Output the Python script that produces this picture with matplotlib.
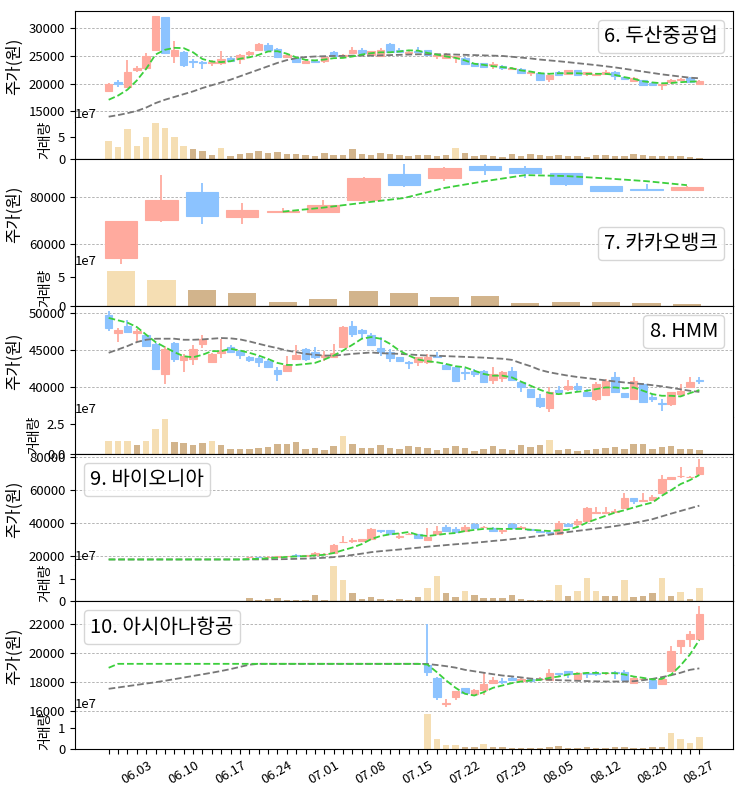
import numpy as np
import pandas as pd
import matplotlib
matplotlib.use("Agg")
import matplotlib.pyplot as plt
from matplotlib.ticker import MultipleLocator
from matplotlib.lines import Line2D

plt.rcParams['font.family'] = ['Noto Sans CJK KR', 'DejaVu Sans']
plt.rcParams['xtick.labelsize'] = 9.5
plt.rcParams['ytick.labelsize'] = 9.5

# ---------------- data ----------------
dates = pd.bdate_range('2021-05-31', '2021-08-27', freq='C', holidays=['2021-08-16'])
kakao_dates = pd.bdate_range('2021-08-06', '2021-08-27', freq='C', holidays=['2021-08-16'])

names = ['6. 두산중공업', '7. 카카오뱅크', '8. HMM', '9. 바이오니아', '10. 아시아나항공']

# 6. Doosan Heavy
dh_open = [18700, 20300, 19400, 22500, 22700, 26000, 31900, 25000, 25600, 24000, 23900, 23600, 23600, 24500, 24400, 25300,
           26050, 26900, 26200, 24800, 24600, 23700, 24100, 24100, 25700, 24900, 25400, 26100, 25200, 25000, 27100, 26000,
           25500, 25800, 26000, 25000, 24600, 24700, 24500, 23600, 23600, 23300, 23200, 22600, 22600, 21900, 21900, 20900,
           22000, 21700, 22400, 21700, 21600, 21800, 22000, 21100, 20500, 20600, 20100, 19700, 20200, 20600, 21000, 20000]
dh_high = [20100, 20600, 24300, 23200, 25400, 32100, 32000, 27700, 25900, 24400, 24100, 24200, 25900, 24800, 25300, 25800,
           27300, 27200, 26400, 25300, 24700, 24400, 24300, 25000, 25900, 25300, 26500, 26400, 25900, 26300, 27300, 26300,
           25900, 26600, 26100, 25300, 25400, 25000, 24800, 23700, 23700, 23800, 23300, 23000, 22700, 22200, 22000, 21700,
           22200, 22500, 22500, 22100, 21900, 22400, 22200, 21200, 21100, 20700, 20200, 20000, 20900, 21000, 21100, 20600]
dh_low = [18400, 19300, 19300, 22000, 22500, 25900, 25400, 23700, 23050, 22800, 22600, 23200, 23250, 23900, 23500, 24700,
          25800, 25900, 24500, 24600, 23800, 23500, 23600, 23700, 24900, 24800, 25300, 25300, 25000, 24800, 25500, 25400,
          25300, 25500, 25100, 24400, 24400, 23700, 23400, 23000, 22900, 22600, 22500, 22400, 21700, 21300, 20500, 20300,
          21500, 21600, 21500, 21300, 21400, 21700, 20700, 20700, 20400, 19600, 19500, 18900, 20000, 20500, 20200, 19800]
dh_close = [19900, 20000, 22100, 22800, 25000, 32100, 25500, 26000, 23400, 23800, 23700, 23800, 24400, 24100, 25200, 25600,
            27100, 26000, 24700, 25100, 23850, 24000, 23800, 24800, 25000, 25100, 26100, 25400, 25800, 26000, 25600, 25600,
            25700, 25600, 25200, 25200, 25200, 24900, 23500, 23100, 23000, 23500, 22800, 22800, 21850, 22000, 20700, 21600,
            21600, 22400, 21600, 22000, 21800, 22000, 21300, 20800, 21000, 19700, 19800, 20000, 20600, 20800, 20200, 20400]
dh_ma5 = [17100, 17850, 18900, 20550, 22650, 25200, 26050, 26400, 26350, 25600, 24400, 23950, 23850, 24000, 24450, 24700,
          25150, 25750, 25800, 25350, 24700, 24250, 24150, 24300, 24550, 24600, 24850, 25200, 25450, 25600, 25600, 25750,
          25950, 25900, 25500, 25200, 24850, 24600, 24150, 23550, 23350, 23100, 22950, 22750, 22350, 22150, 21850, 21750,
          21850, 21850, 21850, 21750, 21750, 21750, 21550, 21150, 20850, 20400, 20200, 20050, 20100, 20250, 20350, 20400]
dh_ma20 = [14070, 14350, 14700, 15100, 15700, 16500, 17100, 17600, 18100, 18600, 19200, 19700, 20200, 20700, 21300, 21900,
           22500, 23100, 23700, 24200, 24550, 24750, 24850, 24900, 24950, 24950, 25000, 25000, 25000, 25050, 25100, 25150,
           25200, 25250, 25250, 25250, 25250, 25200, 25150, 25100, 25050, 25000, 24950, 24800, 24650, 24500, 24300, 24150,
           24000, 23830, 23650, 23480, 23300, 23100, 22900, 22650, 22400, 22150, 21900, 21650, 21450, 21250, 21050, 20950]
dh_vol = [4.2, 2.7, 6.9, 2.85, 5.15, 8.2, 7.1, 5.15, 2.85, 2.15, 1.7, 0.77, 2.46, 0.54, 1.0, 1.3,
          1.7, 1.3, 1.5, 1.08, 1.08, 0.85, 0.6, 1.23, 0.85, 0.85, 2.15, 1.08, 0.77, 1.3, 1.0, 0.77,
          0.6, 0.77, 0.77, 0.6, 0.77, 2.46, 1.3, 0.54, 0.77, 0.6, 0.38, 1.0, 0.6, 1.0, 0.77, 0.6,
          0.77, 0.6, 0.6, 0.38, 0.77, 0.77, 0.6, 0.6, 1.0, 0.77, 0.6, 0.6, 0.6, 0.6, 0.38, 0.23]

# 7. Kakao Bank
kb_open = [54000, 70200, 82200, 71300, 73800, 73800, 78600, 90000, 88000, 93300, 92300, 90400, 84900, 83300, 82900]
kb_high = [69900, 89400, 86100, 77400, 75500, 78800, 88800, 94300, 92900, 94300, 93300, 90500, 84950, 85800, 84900]
kb_low = [51300, 69400, 68400, 68400, 73000, 73600, 78000, 84200, 86800, 89300, 88300, 84900, 82000, 82400, 82900]
kb_close = [69800, 78800, 71900, 74500, 74200, 76700, 88000, 85100, 92300, 91400, 90400, 85800, 82500, 83100, 84200]
kb_ma5 = [np.nan] * 4 + [73800, 75500, 77600, 79600, 83900, 86800, 89400, 89000, 88000, 86800, 85100]
kb_ma20 = [np.nan] * 15
kb_vol = [5.94, 4.44, 2.67, 2.22, 0.78, 1.22, 2.56, 2.22, 1.56, 1.72, 0.61, 0.78, 0.78, 0.61, 0.44]

# 8. HMM
hm_open = [49640, 47300, 48200, 47300, 47000, 45800, 41760, 45950, 43700, 43780, 45800, 43300, 44600, 45360, 44800, 44000,
           43900, 43560, 42340, 42200, 43780, 45050, 44690, 44100, 44100, 45360, 48200, 47700, 47030, 45200, 44690, 44000,
           43400, 43420, 43330, 44200, 42900, 42660, 42000, 42100, 42200, 40990, 41180, 42200, 40700, 39800, 38470, 37250,
           39600, 39700, 40180, 39370, 38380, 38920, 41300, 39190, 38380, 40400, 38600, 37900, 37700, 39100, 39950, 41000]
hm_high = [50180, 47900, 49000, 47800, 47100, 45900, 45500, 46100, 44460, 45600, 46940, 44600, 46500, 45600, 45000, 44200,
           44200, 43800, 42650, 44230, 45590, 45230, 45360, 44800, 45800, 48200, 48830, 47750, 47200, 46700, 45140, 44100,
           43560, 44100, 44460, 44680, 43100, 42880, 42500, 42430, 42300, 42650, 42200, 42650, 40700, 39800, 39050, 39950,
           40180, 40990, 40540, 39700, 40720, 41080, 41980, 39200, 41300, 40500, 39050, 38400, 39370, 40400, 41300, 41400]
hm_low = [47480, 46100, 47300, 46100, 45400, 42300, 40400, 43400, 41980, 42970, 45230, 43300, 43900, 44600, 43800, 43400,
          42650, 42500, 40850, 41980, 43700, 43560, 43780, 43560, 43870, 45230, 46700, 46490, 45500, 44200, 43330, 43400,
          42430, 42890, 43100, 43870, 42300, 40860, 40990, 41300, 40600, 40400, 40630, 40900, 39280, 38500, 37250, 36670,
          39200, 39500, 39370, 38750, 38150, 38900, 39190, 38500, 38300, 37900, 37930, 36800, 37500, 38830, 39900, 40400]
hm_close = [47930, 47700, 47400, 47500, 45500, 42430, 45130, 43780, 44150, 45050, 46400, 44500, 44900, 44700, 44300, 43600,
            43300, 42660, 41760, 42900, 44330, 43780, 44000, 44300, 44600, 48060, 47160, 47200, 45680, 44700, 43870, 43560,
            43200, 44000, 44000, 44000, 42400, 40860, 41900, 41800, 40630, 41760, 41980, 41000, 39950, 38600, 37480, 39370,
            39400, 40100, 39730, 38830, 40400, 40860, 39280, 38600, 40860, 38020, 38400, 37700, 39370, 39500, 40720, 40800]
hm_ma5 = [49280, 48960, 48650, 48060, 47030, 46040, 45360, 44690, 44140, 44000, 44330, 44820, 44820, 45140, 44910, 44600,
          44230, 43780, 43240, 42970, 42970, 43100, 43240, 43700, 44230, 44910, 45680, 46490, 46710, 46490, 45810, 44910,
          44230, 43700, 43470, 43330, 43100, 42800, 42660, 42200, 41760, 41530, 41530, 41300, 40720, 40180, 39640, 39190,
          39050, 39190, 39370, 39500, 39730, 39950, 39950, 39820, 39950, 39500, 39050, 38830, 38830, 38740, 39190, 39600]
hm_ma20 = [44600, 45050, 45500, 46040, 46350, 46490, 46490, 46490, 46350, 46350, 46400, 46490, 46580, 46540, 46400, 46130,
           45810, 45500, 45230, 44910, 44690, 44460, 44330, 44230, 44230, 44330, 44460, 44550, 44640, 44550, 44500, 44460,
           44380, 44300, 44230, 44200, 44150, 44100, 44050, 44000, 43950, 43870, 43800, 43650, 43200, 42800, 42300, 41980,
           41750, 41530, 41350, 41200, 41050, 40900, 40750, 40620, 40500, 40400, 40250, 40100, 39900, 39700, 39500, 39350]
hm_vol = [1.1, 1.06, 1.06, 0.73, 1.06, 2.02, 2.92, 0.97, 0.87, 0.73, 0.87, 1.1, 0.73, 0.39, 0.39, 0.39,
          0.48, 0.56, 0.79, 0.79, 0.97, 0.39, 0.48, 0.31, 0.62, 1.52, 0.79, 0.48, 0.48, 0.73, 0.48, 0.39,
          0.62, 0.56, 0.48, 0.31, 0.48, 0.62, 0.48, 0.22, 0.39, 0.62, 0.39, 0.31, 0.73, 0.56, 0.73, 1.18,
          0.31, 0.39, 0.22, 0.31, 0.39, 0.48, 0.56, 0.39, 0.84, 0.84, 0.39, 0.56, 0.62, 0.39, 0.39, 0.31]

# 9. Bioneer (no trades for the first 15 days)
bn_open = [np.nan] * 15 + [19300, 19500, 19300, 19700, 19800, 20700, 20300, 20800, 21200, 22000, 28300, 28900, 29200,
                           30600, 35800, 35600, 31500, 33300, 33200, 29500, 33200, 37700, 36300, 35200, 39300, 37500,
                           37300, 35000, 39300, 37300, 36300, 35500, 34800, 33600, 39700, 39500, 41500, 46400, 46200,
                           46800, 49100, 55200, 53500, 54000, 58000, 66700, 68300, 68000, 69600]
bn_high = [np.nan] * 15 + [19700, 19600, 19900, 20200, 20300, 21000, 20800, 22300, 21900, 27500, 32200, 30800, 30500,
                           37000, 35900, 35700, 34200, 34200, 33300, 37300, 38300, 38900, 37700, 38900, 40300, 38300,
                           37500, 36500, 40300, 38100, 36500, 35700, 34900, 41100, 40100, 42300, 49600, 50000, 49500,
                           48800, 58000, 55300, 58000, 57200, 68900, 68200, 74300, 68800, 79000]
bn_low = [np.nan] * 15 + [19100, 19000, 19200, 19600, 19700, 20000, 20100, 20600, 20900, 21800, 28000, 28100, 28900,
                          30400, 34200, 33100, 30200, 33000, 30200, 29400, 33000, 35000, 34800, 34800, 37000, 37000,
                          35000, 33200, 36300, 37000, 35600, 34600, 33600, 33200, 37900, 37900, 41400, 45400, 46100,
                          46300, 49000, 51900, 53100, 53300, 57500, 66500, 67600, 67700, 69300]
bn_close = [np.nan] * 15 + [19500, 19200, 19700, 20000, 20000, 20200, 20500, 21900, 21400, 26700, 28600, 29500, 30100,
                            36700, 35300, 33600, 32000, 33600, 30800, 31600, 35200, 35200, 34900, 37700, 37300, 37800,
                            35200, 35800, 36900, 37900, 35800, 34800, 33800, 40100, 38500, 41500, 49000, 47000, 46600,
                            47400, 55200, 53500, 54000, 55600, 66700, 68100, 68700, 68200, 74300]
bn_ma5 = [17970] * 15 + [18200, 18400, 18700, 19100, 19500, 19800, 20000, 20400, 20800, 21900, 23600, 25200, 27300, 30300,
                         32200, 33200, 33800, 34600, 32800, 32200, 32800, 33600, 34000, 35200, 35900, 36500, 36700, 36500,
                         36500, 36500, 36000, 35600, 35200, 35600, 36000, 37700, 40300, 42400, 44400, 46400, 47800, 49500,
                         51100, 52500, 56600, 60000, 63700, 66100, 69200]
bn_ma20 = [17970] * 15 + [17980, 18000, 18050, 18100, 18200, 18350, 18500, 18700, 19000, 19400, 20000, 20700, 21500,
                          22400, 23000, 23500, 24000, 24600, 25100, 25700, 26200, 26700, 27200, 27600, 28100, 28600, 29200,
                          29700, 30300, 30900, 31600, 32300, 33000, 33800, 34600, 35300, 36000, 36700, 37400, 38200, 39100,
                          40100, 41200, 42400, 44100, 45800, 47400, 49000, 50600]
bn_vol = [0.0] * 15 + [0.15, 0.07, 0.09, 0.15, 0.07, 0.07, 0.05, 0.27, 0.07, 1.58, 0.94, 0.36, 0.1, 0.19,
                       0.1, 0.07, 0.1, 0.07, 0.19, 0.6, 1.16, 0.36, 0.19, 0.49, 0.27, 0.15, 0.15, 0.15, 0.31,
                       0.1, 0.07, 0.07, 0.07, 0.72, 0.24, 0.45, 1.07, 0.45, 0.24, 0.24, 0.94, 0.19, 0.24, 0.36,
                       1.03, 0.24, 0.41, 0.1, 0.58]

# 10. Asiana Airlines (no trades until 07.16)
aa_open = [np.nan] * 34 + [19150, 18300, 16500, 16980, 17620, 17210, 17480, 17940, 18100, 18300, 18100, 18250, 18200,
                           18160, 18620, 18760, 18230, 18620, 18650, 18600, 18700, 18690, 17970, 18200, 18160, 17850,
                           18800, 20450, 20970, 20970]
aa_high = [np.nan] * 34 + [22000, 18390, 16860, 17390, 17620, 17550, 18620, 18390, 18260, 18420, 18300, 18300, 18350,
                           18920, 18650, 18760, 18700, 18700, 18760, 18700, 18760, 18850, 18350, 18350, 18300, 18300,
                           20450, 20900, 21500, 23190]
aa_low = [np.nan] * 34 + [18460, 16800, 16300, 16800, 17210, 17090, 17160, 17900, 17850, 18150, 18050, 18050, 18100,
                          18110, 18400, 18300, 18230, 18300, 18400, 18500, 18230, 18090, 17950, 18100, 17550, 17800,
                          18700, 19950, 20400, 20970]
aa_close = [np.nan] * 34 + [18690, 16980, 16600, 17390, 17250, 17480, 17890, 18120, 17990, 18150, 18200, 18100, 18250,
                            18620, 18530, 18530, 18620, 18580, 18550, 18650, 18620, 18160, 18300, 18250, 17620, 18230,
                            20170, 20900, 21320, 22640]
aa_ma5 = [18990] + [19260] * 33 + [19210, 18690, 18120, 17620, 17210, 17090, 17320, 17620, 17780, 17940, 18050, 18120,
                                   18160, 18300, 18390, 18530, 18580, 18640, 18640, 18620, 18620, 18530, 18390, 18300,
                                   18190, 18230, 18530, 19150, 19900, 20900]
aa_ma20 = [17550, 17640, 17730, 17820, 17910, 18000, 18100, 18210, 18320, 18430, 18540, 18650, 18770, 18900, 19050,
           19200] + [19260] * 18 + [19250, 19180, 19100, 19000, 18850, 18750, 18650, 18550, 18460, 18400, 18330, 18250,
                                    18200, 18170, 18140, 18120, 18100, 18080, 18060, 18050, 18050, 18050, 18070, 18140,
                                    18230, 18350, 18480, 18650, 18850, 18950]
aa_vol = [0.0] * 34 + [1.64, 0.47, 0.19, 0.19, 0.09, 0.09, 0.23, 0.09, 0.09, 0.05, 0.05, 0.05, 0.05, 0.09, 0.14,
                       0.05, 0.05, 0.09, 0.05, 0.05, 0.09, 0.09, 0.05, 0.05, 0.09, 0.09, 0.73, 0.47, 0.3, 0.58]

price_steps = [5000, 20000, 5000, 20000, 2000]
legend_locs = ['upper right', 'lower right', 'upper right', 'upper left', 'upper left']

stocks = [
    (dh_open, dh_high, dh_low, dh_close, dh_ma5, dh_ma20, dh_vol),
    (kb_open, kb_high, kb_low, kb_close, kb_ma5, kb_ma20, kb_vol),
    (hm_open, hm_high, hm_low, hm_close, hm_ma5, hm_ma20, hm_vol),
    (bn_open, bn_high, bn_low, bn_close, bn_ma5, bn_ma20, bn_vol),
    (aa_open, aa_high, aa_low, aa_close, aa_ma5, aa_ma20, aa_vol),
]

UP = '#FFAA9E'
DOWN = '#8CC3FF'
VOL_HI = 'wheat'
VOL_LO = 'tan'

# ---------------- figure ----------------
W, H = 743, 786
fig = plt.figure(figsize=(W / 100, H / 100), dpi=100)
gs = fig.add_gridspec(10, 1, height_ratios=[3, 1] * 5, hspace=0,
                      left=75 / W, right=733 / W, top=1 - 11 / H, bottom=1 - 749 / H)

for k, (o, h, l, c, m5, m20, v) in enumerate(stocks):
    o, h, l, c = (np.asarray(a, dtype=float) for a in (o, h, l, c))
    m5, m20 = np.asarray(m5, dtype=float), np.asarray(m20, dtype=float)
    vol = np.asarray(v, dtype=float) * 1e7
    n = len(c)
    x = np.arange(n)

    axp = fig.add_subplot(gs[2 * k])
    axv = fig.add_subplot(gs[2 * k + 1], sharex=axp)

    ok = ~np.isnan(o)
    cols = np.where(c >= o, UP, DOWN)
    axp.vlines(x[ok], l[ok], h[ok], colors=cols[ok], linewidth=1.3, zorder=2)
    axp.bar(x[ok], np.abs(c - o)[ok], bottom=np.minimum(o, c)[ok], width=0.8,
            color=cols[ok], edgecolor=cols[ok], linewidth=0.8, zorder=3)
    axp.plot(x, m20, color='#777777', linestyle='--', linewidth=1.3, zorder=4)
    axp.plot(x, m5, color='#3ccf3c', linestyle='--', linewidth=1.3, zorder=5)

    lo = np.nanmin(np.concatenate([l, m5, m20]))
    hi = np.nanmax(np.concatenate([h, m5, m20]))
    pad = 0.05 * (hi - lo)
    axp.set_ylim(lo - pad, hi + pad)
    axp.yaxis.set_major_locator(MultipleLocator(price_steps[k]))
    axp.grid(axis='y', linestyle=(0, (3, 2)), linewidth=0.6, color='#aaaaaa')
    axp.set_axisbelow(True)
    axp.spines['bottom'].set_visible(False)
    axp.tick_params(axis='x', bottom=False, labelbottom=False)
    axp.set_ylabel('주가(원)', fontsize=12)

    title_handle = Line2D([], [], linestyle='none')
    axp.legend([title_handle], [names[k]], loc=legend_locs[k], fontsize=14.5,
               handlelength=0, handletextpad=0, borderpad=0.3, borderaxespad=0.45)

    vcols = np.where(vol > 1.5 * vol.mean(), VOL_HI, VOL_LO)
    axv.bar(x, vol, width=0.7, color=vcols)
    axv.set_ylim(0, vol.max() * 1.05)
    axv.spines['top'].set_visible(False)
    axv.set_ylabel('거래량', fontsize=10)
    axv.yaxis.get_offset_text().set_fontsize(9.5)

    pad_x = 0.4 + 0.05 * (n - 1 + 0.8)
    axv.set_xlim(-pad_x, n - 1 + pad_x)

    if k == 4:
        axv.set_xticks(x)
        labels = [d.strftime('%m.%d') if (n - 1 - i) % 5 == 0 else '' for i, d in enumerate(dates)]
        axv.set_xticklabels(labels, rotation=30, fontsize=9.5)
    else:
        axv.tick_params(axis='x', bottom=False, labelbottom=False)

fig.savefig('out.png', dpi=100)
